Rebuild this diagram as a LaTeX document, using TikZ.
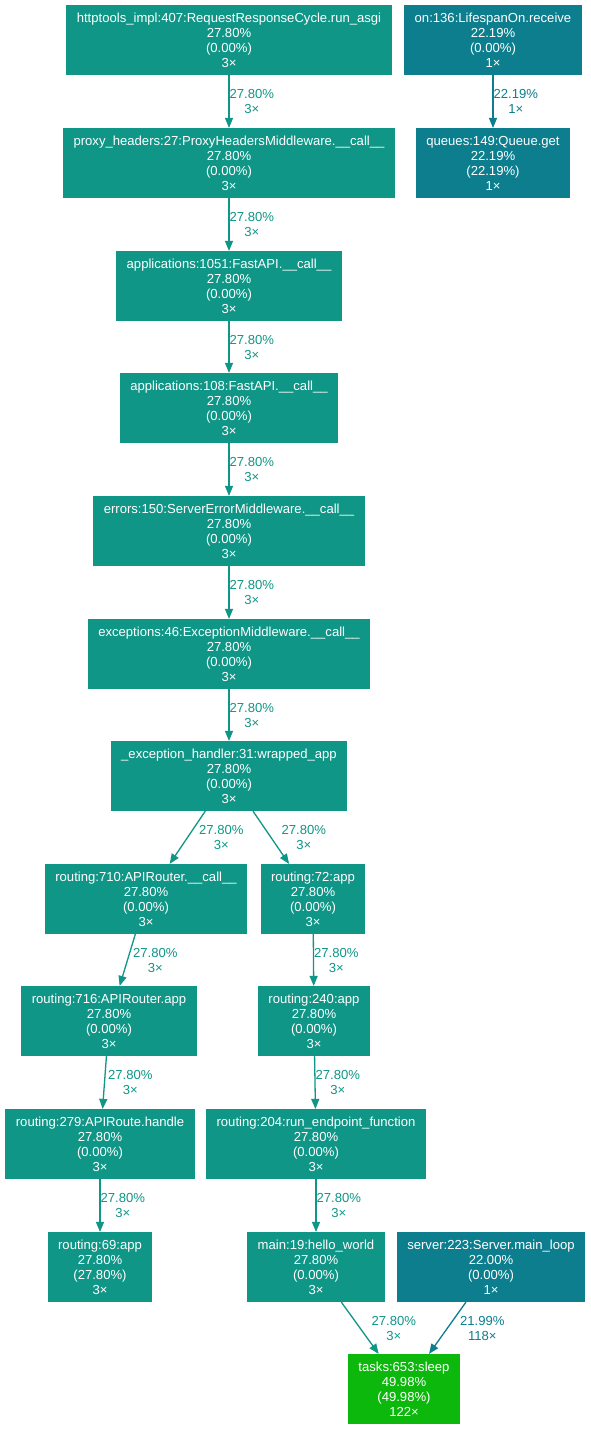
\documentclass[tikz,border=0pt]{standalone}
\usepackage{fontspec}
\setmainfont{Liberation Sans}
\usetikzlibrary{arrows}
\definecolor{warmteal}{HTML}{0F9687}
\definecolor{coolteal}{HTML}{0C7E8E}
\definecolor{hotgreen}{HTML}{0DB80D}

\begin{document}
\begin{tikzpicture}[line cap=round,line join=round,>=triangle 45,x=1pt,y=-1pt,
  fn/.style={fill=#1,text=white,align=center,font=\fontsize{13.1}{15}\selectfont,
    minimum height=70pt,inner xsep=10.5pt,inner ysep=0pt},
  call/.style={->,line width=1.3pt,color=#1},
  pct/.style={right,inner sep=0pt,align=center,font=\fontsize{13.1}{15}\selectfont}]
\path[fill=white,use as bounding box] (0,0) rectangle (590,1429);
% call chain
\node[fn=warmteal] (run) at (229,40) {httptools\_impl:407:RequestResponseCycle.run\_asgi\\27.80\%\\(0.00\%)\\3×};
\node[fn=coolteal] (recv) at (493,40) {on:136:LifespanOn.receive\\22.19\%\\(0.00\%)\\1×};
\node[fn=warmteal] (proxy) at (229,163) {proxy\_headers:27:ProxyHeadersMiddleware.\_\_call\_\_\\27.80\%\\(0.00\%)\\3×};
\node[fn=coolteal] (qget) at (493,163) {queues:149:Queue.get\\22.19\%\\(22.19\%)\\1×};
\node[fn=warmteal] (fa1) at (229,286) {applications:1051:FastAPI.\_\_call\_\_\\27.80\%\\(0.00\%)\\3×};
\node[fn=warmteal] (fa2) at (229,408) {applications:108:FastAPI.\_\_call\_\_\\27.80\%\\(0.00\%)\\3×};
\node[fn=warmteal] (err) at (229,531) {errors:150:ServerErrorMiddleware.\_\_call\_\_\\27.80\%\\(0.00\%)\\3×};
\node[fn=warmteal] (exc) at (229,654) {exceptions:46:ExceptionMiddleware.\_\_call\_\_\\27.80\%\\(0.00\%)\\3×};
\node[fn=warmteal] (wrap) at (229,776) {\_exception\_handler:31:wrapped\_app\\27.80\%\\(0.00\%)\\3×};
\node[fn=warmteal] (r710) at (146,899) {routing:710:APIRouter.\_\_call\_\_\\27.80\%\\(0.00\%)\\3×};
\node[fn=warmteal] (r72) at (313,899) {routing:72:app\\27.80\%\\(0.00\%)\\3×};
\node[fn=warmteal] (r716) at (109,1021) {routing:716:APIRouter.app\\27.80\%\\(0.00\%)\\3×};
\node[fn=warmteal] (r240) at (314,1021) {routing:240:app\\27.80\%\\(0.00\%)\\3×};
\node[fn=warmteal] (r279) at (100,1144) {routing:279:APIRoute.handle\\27.80\%\\(0.00\%)\\3×};
\node[fn=warmteal] (r204) at (316,1144) {routing:204:run\_endpoint\_function\\27.80\%\\(0.00\%)\\3×};
\node[fn=warmteal] (r69) at (100,1267) {routing:69:app\\27.80\%\\(27.80\%)\\3×};
\node[fn=warmteal] (hello) at (316,1267) {main:19:hello\_world\\27.80\%\\(0.00\%)\\3×};
\node[fn=coolteal] (loop) at (491,1267) {server:223:Server.main\_loop\\22.00\%\\(0.00\%)\\1×};
\node[fn=hotgreen] (sleep) at (404,1389) {tasks:653:sleep\\49.98\%\\(49.98\%)\\122×};
% edges
\draw[call=warmteal] (run) -- node[pct] {27.80\%\\3×} (proxy);
\draw[call=coolteal] (recv) -- node[pct] {22.19\%\\1×} (qget);
\draw[call=warmteal] (proxy) -- node[pct] {27.80\%\\3×} (fa1);
\draw[call=warmteal] (fa1) -- node[pct] {27.80\%\\3×} (fa2);
\draw[call=warmteal] (fa2) -- node[pct] {27.80\%\\3×} (err);
\draw[call=warmteal] (err) -- node[pct] {27.80\%\\3×} (exc);
\draw[call=warmteal] (exc) -- node[pct] {27.80\%\\3×} (wrap);
\draw[call=warmteal] (wrap) -- node[pct,xshift=11pt] {27.80\%\\3×} (r710);
\draw[call=warmteal] (wrap) -- node[pct,xshift=10pt] {27.80\%\\3×} (r72);
\draw[call=warmteal] (r710) -- node[pct,xshift=5pt] {27.80\%\\3×} (r716);
\draw[call=warmteal] (r716) -- node[pct,xshift=3pt] {27.80\%\\3×} (r279);
\draw[call=warmteal] (r72) -- node[pct] {27.80\%\\3×} (r240);
\draw[call=warmteal] (r240) -- node[pct] {27.80\%\\3×} (r204);
\draw[call=warmteal] (r279) -- node[pct] {27.80\%\\3×} (r69);
\draw[call=warmteal] (r204) -- node[pct] {27.80\%\\3×} (hello);
\draw[call=warmteal] (hello) -- node[pct,xshift=11pt] {27.80\%\\3×} (sleep);
\draw[call=coolteal] (loop) -- node[pct,xshift=12pt] {21.99\%\\118×} (sleep);
\end{tikzpicture}
\end{document}
